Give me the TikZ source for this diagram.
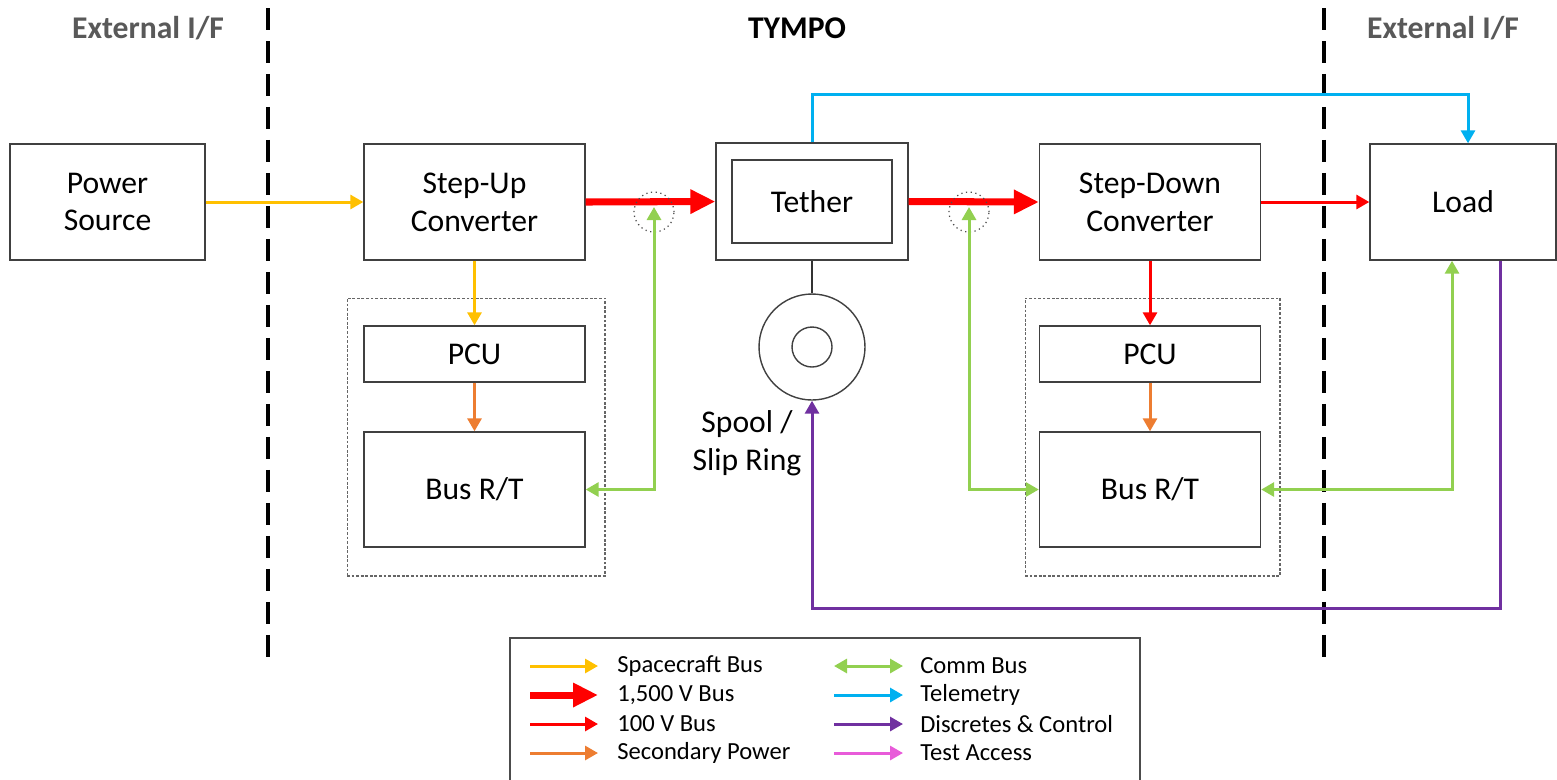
\documentclass[tikz,border=0pt]{standalone}
\usepackage{fontspec}
\setmainfont{Carlito}
\usepackage{xcolor}
\usepackage{tikz}
\usetikzlibrary{calc, arrows.meta, positioning}

\definecolor{cvang}{HTML}{FFC000}
\definecolor{cdo}{HTML}{FF0000}
\definecolor{ccam}{HTML}{ED7D31}
\definecolor{cxanhla}{HTML}{92D050}
\definecolor{cxanhduong}{HTML}{00B0F0}
\definecolor{ctim}{HTML}{7030A0}
\definecolor{chong}{HTML}{E85BD9}
\definecolor{cxam}{HTML}{595959}

\begin{document}
\begin{tikzpicture}[x=0.02cm, y=-0.02cm,
    khoi/.style={draw=black!75, line width=0.8pt, minimum width=4.42cm, minimum height=2.32cm, align=center, font=\fontsize{18}{21.5}\selectfont},
    nhom/.style={draw=black!60, dash pattern=on 1.6pt off 1pt, line width=0.6pt, minimum width=5.16cm, minimum height=5.56cm},
    tieude/.style={font=\bfseries\fontsize{18}{21.5}\selectfont},
    ngan/.style={line width=2pt, dash pattern=on 0.44cm off 0.22cm},
    chuthich/.style={anchor=west, inner sep=0pt, font=\fontsize{14}{17}\selectfont},
    spbus/.style={draw=cvang, line width=1.7pt, -{Triangle[length=0.26cm,width=0.28cm]}},
    hvbus/.style={draw=cdo, line width=4pt, -{Triangle[length=0.5cm,width=0.46cm]}},
    lvbus/.style={draw=cdo, line width=1.7pt, -{Triangle[length=0.26cm,width=0.28cm]}},
    secpwr/.style={draw=ccam, line width=1.7pt, -{Triangle[length=0.26cm,width=0.28cm]}},
    commbus/.style={draw=cxanhla, line width=1.7pt, {Triangle[length=0.26cm,width=0.28cm]}-{Triangle[length=0.26cm,width=0.28cm]}},
    telem/.style={draw=cxanhduong, line width=1.7pt, -{Triangle[length=0.26cm,width=0.28cm]}},
    ctrl/.style={draw=ctim, line width=1.7pt, -{Triangle[length=0.26cm,width=0.28cm]}},
    testacc/.style={draw=chong, line width=1.7pt, -{Triangle[length=0.26cm,width=0.28cm]}}]
    \useasboundingbox (0,0) rectangle (1557,779);

    % 1. Tieu de va duong phan cach
    \node[tieude, text=cxam] (extL) at (148,28) {External I/F};
    \node[tieude] (tympo) at (797,28) {TYMPO};
    \node[tieude, text=cxam] (extR) at (1443,28) {External I/F};
    \draw[ngan] (268,8) -- (268,662);
    \draw[ngan] (1324,8) -- (1324,662);

    % 2. Cac khoi chinh
    \node[khoi, minimum width=3.9cm] (power) at (107.5,202) {Power\\Source};
    \node[khoi] (stepup) at (474.5,202) {Step-Up\\Converter};
    \node[khoi, minimum width=3.84cm, minimum height=2.34cm] (tetherbox) at (812,201.5) {};
    \node[khoi, minimum width=3.2cm, minimum height=1.66cm] (tether) at (812,201.5) {Tether};
    \node[khoi] (stepdown) at (1150,202) {Step-Down\\Converter};
    \node[khoi, minimum width=3.72cm] (load) at (1463,202) {Load};

    % 3. Nhom PCU / Bus R/T
    \node[nhom] (grpL) at (476,437) {};
    \node[khoi, minimum height=1.12cm] (pcuL) at (474.5,354) {PCU};
    \node[khoi, minimum height=2.3cm] (busL) at (474.5,489.5) {Bus R/T};
    \node[nhom, minimum width=5.1cm] (grpR) at (1152.5,437) {};
    \node[khoi, minimum height=1.12cm] (pcuR) at (1150,354) {PCU};
    \node[khoi, minimum height=2.3cm] (busR) at (1150,489.5) {Bus R/T};

    % 4. Cuon day
    \node[draw=black!75, line width=0.8pt, circle, minimum size=2.12cm] (spool) at (812,347) {};
    \node[draw=black!75, line width=0.8pt, circle, minimum size=0.8cm] (spoolin) at (812,347) {};
    \node[align=center, font=\fontsize{18}{21.5}\selectfont] (spoollbl) at (747,443) {Spool /\\Slip Ring};
    \draw[black!80, line width=0.8pt] (tetherbox.south) -- (spool.north);

    % 5. Duong nguon
    \draw[spbus] (power.east) -- (stepup.west);
    \draw[hvbus] (stepup.east) -- (tetherbox.west);
    \draw[hvbus] (tetherbox.east) -- (stepdown.west);
    \draw[lvbus] (stepdown.east) -- (load.west);
    \draw[spbus] (stepup.south) -- (pcuL.north);
    \draw[secpwr] (pcuL.south) -- (busL.north);
    \draw[lvbus] (stepdown.south) -- (pcuR.north);
    \draw[secpwr] (pcuR.south) -- (busR.north);

    % 6. Comm bus, telemetry, dieu khien
    \node[draw=black!70, dotted, line width=0.7pt, circle, minimum size=0.8cm] (vongL) at (654,212) {};
    \node[draw=black!70, dotted, line width=0.7pt, circle, minimum size=0.8cm] (vongR) at (969,212) {};
    \coordinate (tapL) at (654,207);
    \coordinate (tapR) at (969,207);
    \draw[commbus] (busL.east) -| (tapL);
    \draw[commbus] (tapR) |- (busR.west);
    \draw[commbus] (busR.east) -| ([xshift=-0.22cm]load.south);
    \draw[telem] (tetherbox.north) -- (812,94) -| ([xshift=0.1cm]load.north);
    \draw[ctrl] ([xshift=0.74cm]load.south) |- (812,608) -- (spool.south);

    % 7. Chu thich
    \draw[draw=black!70, line width=0.6pt] (510,638) rectangle (1140,786);
    \foreach \kieu/\chu [count=\i] in {spbus/Spacecraft Bus, hvbus/{1,500 V Bus}, lvbus/100 V Bus, secpwr/Secondary Power} {
        \draw[\kieu] (530,{637+29*\i}) -- (598,{637+29*\i});
        \node[chuthich] (chuL\i) at (617,{637+29*\i}) {\chu};
    }
    \foreach \kieu/\chu [count=\i] in {commbus/Comm Bus, telem/Telemetry, ctrl/Discretes \& Control, testacc/Test Access} {
        \draw[\kieu] (834,{637+29*\i}) -- (903,{637+29*\i});
        \node[chuthich] (chuR\i) at (920,{637+29*\i}) {\chu};
    }
\end{tikzpicture}
\end{document}
